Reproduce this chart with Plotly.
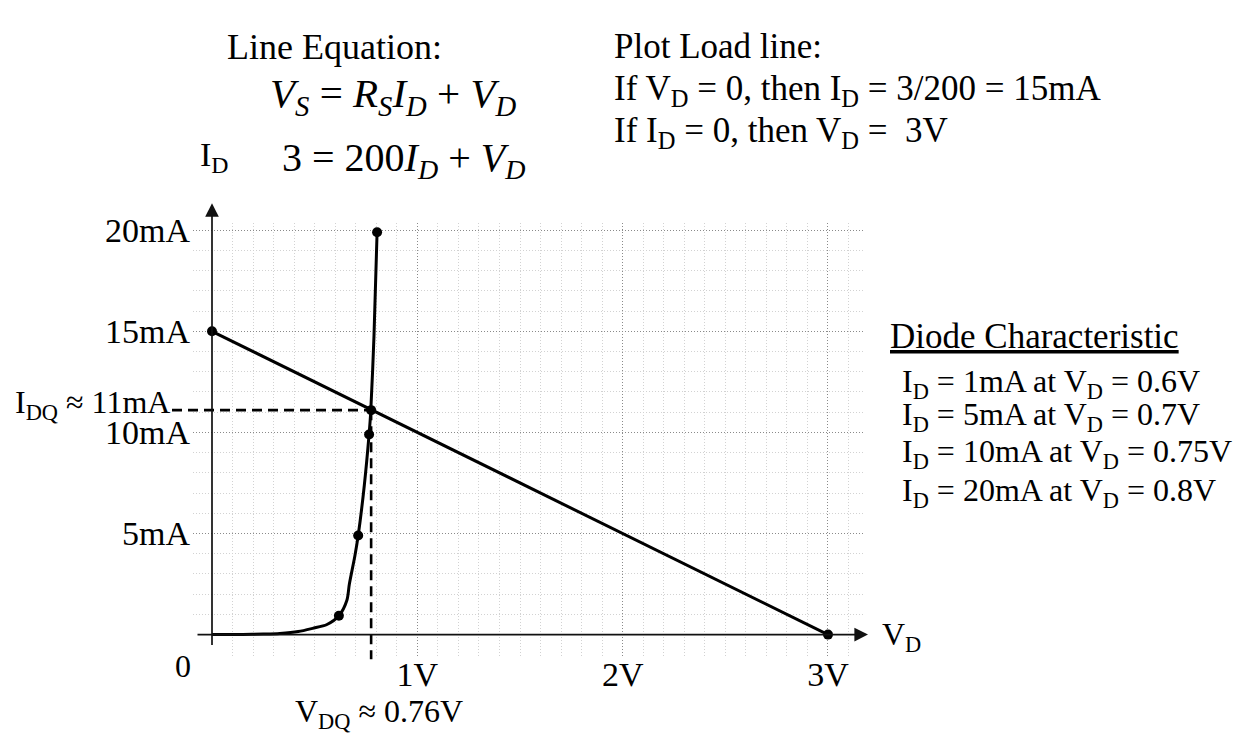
import plotly.graph_objects as go

OFF = 8                      # browser body margin
W, H = 1244 - OFF, 740 - OFF  # figure size so the page is exactly filled
FONT = "Liberation Serif"

# ---------------- data ----------------
load_v = [0.0, 3.0]
load_i = [15.0, 0.0]

diode_curve_v = [0.0, 0.15, 0.25, 0.33, 0.42, 0.49, 0.56, 0.618, 0.657, 0.669, 0.696, 0.712, 0.742, 0.765, 0.773, 0.789, 0.804]
diode_curve_i = [0.0, 0.01, 0.03, 0.06, 0.15, 0.31, 0.50, 0.93, 1.7, 2.5, 3.9, 4.9, 7.4, 9.9, 11.0, 14.8, 19.9]

diode_pts_v = [0.618, 0.712, 0.765, 0.804]
diode_pts_i = [0.93, 4.9, 9.9, 19.9]

q_v = [0.775]
q_i = [11.1]

x_tickvals = [1, 2, 3]
x_ticktext = ["1V", "2V", "3V"]
y_tickvals = [5, 10, 15, 20]
y_ticktext = ["5mA", "10mA", "15mA", "20mA"]
minor_x = [round(0.1 * k, 1) for k in range(1, 32) if k % 10]
minor_y = [k for k in range(1, 20) if k % 5]

# ---------------- geometry (page-pixel scale) ----------------
X0, SX = 212.0, 205.33   # page px of V=0, px per volt
Y0, SY = 633.0, 20.53    # page px of I=0, px per mA


def xrange_px(a, b):
    return [(a - X0) / SX, (b - X0) / SX]


def yrange_px(top, bottom):
    return [(Y0 - bottom) / SY, (Y0 - top) / SY]


def pxx(x):
    return (x - OFF) / W


def pxy(y):
    return 1 - (y - OFF) / H


# guide extents
h_guide_left = (172 - X0) / SX
v_guide_bottom = (Y0 - 658) / SY
ax_x_left, ax_x_tip = (196 - X0) / SX, (868 - X0) / SX
ax_y_bottom, ax_y_tip = (Y0 - 645) / SY, (Y0 - 195) / SY

fig = go.Figure()

# empty trace for grid subplot
fig.add_trace(go.Scatter(x=[], y=[], xaxis="x", yaxis="y", showlegend=False, hoverinfo="skip"))

# dashed Q guides
fig.add_trace(go.Scatter(x=[h_guide_left, q_v[0]], y=[q_i[0], q_i[0]], mode="lines",
                         line=dict(color="black", width=2.6, dash="10px,6px"),
                         xaxis="x2", yaxis="y2", showlegend=False, hoverinfo="skip"))
fig.add_trace(go.Scatter(x=[q_v[0], q_v[0]], y=[q_i[0], v_guide_bottom], mode="lines",
                         line=dict(color="black", width=2.6, dash="10px,6px"),
                         xaxis="x2", yaxis="y2", showlegend=False, hoverinfo="skip"))

# load line
fig.add_trace(go.Scatter(x=load_v, y=load_i, mode="lines+markers",
                         line=dict(color="black", width=3), marker=dict(color="black", size=10),
                         xaxis="x2", yaxis="y2", showlegend=False))
# diode curve
fig.add_trace(go.Scatter(x=diode_curve_v, y=diode_curve_i, mode="lines",
                         line=dict(color="black", width=3, shape="spline", smoothing=0.8),
                         xaxis="x2", yaxis="y2", showlegend=False))
fig.add_trace(go.Scatter(x=diode_pts_v, y=diode_pts_i, mode="markers",
                         marker=dict(color="black", size=10),
                         xaxis="x2", yaxis="y2", showlegend=False))
fig.add_trace(go.Scatter(x=q_v, y=q_i, mode="markers", marker=dict(color="black", size=10),
                         xaxis="x2", yaxis="y2", showlegend=False))

tickfont = dict(family=FONT, size=34, color="black")

anns = []
# axis arrows
anns.append(dict(x=ax_x_tip, y=0, ax=ax_x_left, ay=0, xref="x2", yref="y2", axref="x2", ayref="y2",
                 text="", showarrow=True, arrowhead=2, arrowsize=1.6, arrowwidth=1.7, arrowcolor="#111"))
anns.append(dict(x=0, y=ax_y_tip, ax=0, ay=ax_y_bottom, xref="x2", yref="y2", axref="x2", ayref="y2",
                 text="", showarrow=True, arrowhead=2, arrowsize=1.6, arrowwidth=1.7, arrowcolor="#111"))


def txt(text, x, y, xanchor="left", size=35, yanchor="middle"):
    anns.append(dict(text=text, x=pxx(x), y=pxy(y), xref="paper", yref="paper",
                     xanchor=xanchor, yanchor=yanchor, showarrow=False,
                     font=dict(family=FONT, size=size, color="black")))


txt("Line Equation:", 225, 36, size=36)
txt("<i>V<sub>S</sub></i> = <i>R<sub>S</sub>I<sub>D</sub></i> + <i>V<sub>D</sub></i>", 268, 86, size=41)
txt("3 = 200<i>I<sub>D</sub></i> + <i>V<sub>D</sub></i>", 280, 151, size=40)
txt("I<sub>D</sub>", 198, 148, size=34)
txt("Plot Load line:", 612, 36)
txt("If V<sub>D</sub> = 0, then I<sub>D</sub> = 3/200 = 15mA", 612, 81)
txt("If I<sub>D</sub> = 0, then V<sub>D</sub> =  3V", 612, 123)
txt("<u>Diode Characteristic</u>", 888, 330)
txt("I<sub>D</sub> = 1mA at V<sub>D</sub> = 0.6V", 900, 378, size=32)
txt("I<sub>D</sub> = 5mA at V<sub>D</sub> = 0.7V", 900, 412, size=32)
txt("I<sub>D</sub> = 10mA at V<sub>D</sub> = 0.75V", 900, 449, size=32)
txt("I<sub>D</sub> = 20mA at V<sub>D</sub> = 0.8V", 900, 489, size=32)
txt("I<sub>DQ</sub> ≈ 11mA", 172, 399, xanchor="right", size=32)
txt("V<sub>DQ</sub> ≈ 0.76V", 293, 713, size=32)
txt("V<sub>D</sub>", 880, 635, size=32)
txt("0", 183, 665, xanchor="center", size=32)

fig.update_layout(
    width=W, height=H,
    margin=dict(l=0, r=0, t=0, b=0),
    paper_bgcolor="white", plot_bgcolor="rgba(0,0,0,0)",
    showlegend=False,
    xaxis=dict(domain=[pxx(193), pxx(863)], range=xrange_px(193, 863), anchor="y",
               showline=False, zeroline=False, showgrid=True,
               tickmode="array", tickvals=x_tickvals, ticktext=x_ticktext, ticks="",
               tickfont=tickfont, ticklabelstandoff=-5,
               gridcolor="#8a8a8a", gridwidth=1, griddash="1px,2px",
               minor=dict(tickvals=minor_x, showgrid=True, gridcolor="#d2d2d2", gridwidth=1,
                          griddash="1px,2px", ticks=""),
               fixedrange=True),
    yaxis=dict(domain=[pxy(655), pxy(215)], range=yrange_px(215, 655), anchor="x",
               showline=False, zeroline=False, showgrid=True,
               tickmode="array", tickvals=y_tickvals, ticktext=y_ticktext, ticks="",
               tickfont=tickfont, ticklabelstandoff=2,
               gridcolor="#8a8a8a", gridwidth=1, griddash="1px,2px",
               minor=dict(tickvals=minor_y, showgrid=True, gridcolor="#d2d2d2", gridwidth=1,
                          griddash="1px,2px", ticks=""),
               fixedrange=True),
    xaxis2=dict(domain=[0, 1], range=xrange_px(OFF, OFF + W), anchor="y2", visible=False, fixedrange=True),
    yaxis2=dict(domain=[0, 1], range=yrange_px(OFF, OFF + H), anchor="x2", visible=False, fixedrange=True),
    annotations=anns,
)

fig.write_html("out.html")
